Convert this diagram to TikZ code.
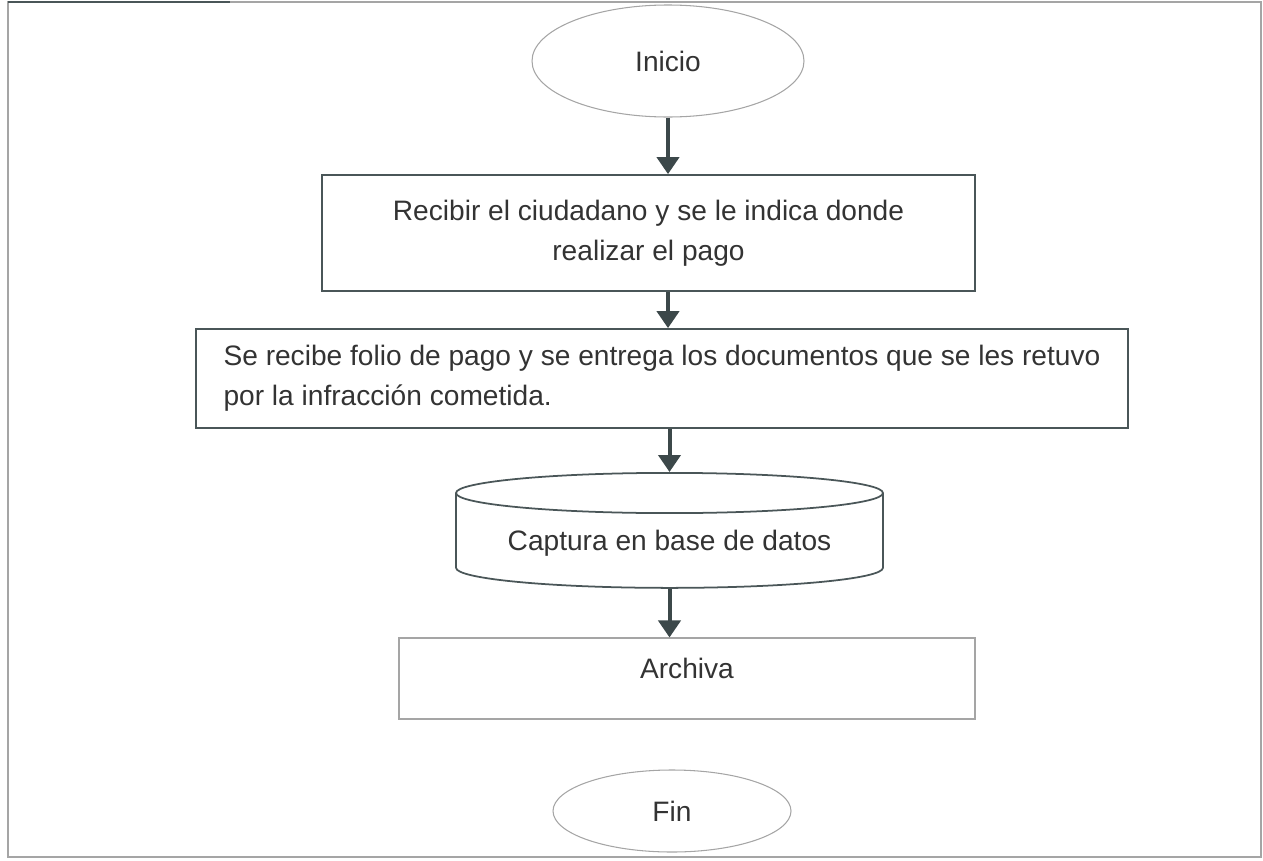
\documentclass[tikz,border=0pt]{standalone}
\usepackage{fontspec}
\setmainfont{Liberation Sans}
\usetikzlibrary{arrows.meta,shapes.geometric}
\definecolor{bordegris}{RGB}{74,86,88}
\definecolor{flechagris}{RGB}{60,72,74}
\definecolor{textogris}{RGB}{51,51,51}
\definecolor{bordeclaro}{RGB}{165,165,165}

\begin{document}
\begin{tikzpicture}[>={Triangle[width=0.44cm,length=0.34cm]},
    caja/.style={draw=bordegris,line width=1pt,text=textogris,
                 font=\fontsize{16}{23}\selectfont},
    terminal/.style={ellipse,draw=bordeclaro,line width=0.6pt,text=textogris,
                 font=\fontsize{16}{23}\selectfont},
    flecha/.style={->,draw=flechagris,line width=0.08cm}]
  % marco de la hoja
  \useasboundingbox (0,0) rectangle (25.26,-17.2);
  \draw[bordeclaro,line width=0.8pt] (0.16,-0.04) rectangle (25.22,-17.14);
  \draw[bordegris,line width=1.6pt] (0.16,-0.04) -- (4.6,-0.04);
  % inicio
  \node[terminal,minimum width=5.44cm,minimum height=2.24cm]
        (inicio) at (13.36,-1.22) {Inicio};
  % recibir al ciudadano
  \node[caja,minimum width=13.06cm,minimum height=2.32cm,align=center]
        (recibir) at (12.97,-4.66)
        {Recibir el ciudadano y se le indica donde\\ realizar el pago};
  % folio de pago
  \node[caja,minimum width=18.64cm,minimum height=1.98cm,align=left]
        (folio) at (13.24,-7.57)
        {Se recibe folio de pago y se entrega los documentos que se les retuvo\\
         por la infracción cometida.};
  % base de datos
  \node[caja,cylinder,shape border rotate=90,aspect=0.12,anchor=north,
        minimum width=8.54cm,minimum height=2.3cm]
        (captura) at (13.39,-9.44) {Captura en base de datos};
  % archiva (texto un poco arriba)
  \node[caja,draw=bordeclaro,line width=0.6pt,minimum width=11.52cm,minimum height=1.62cm,
        text height=11pt,text depth=11pt]
        (archiva) at (13.74,-13.57) {Archiva};
  % fin
  \node[terminal,minimum width=4.76cm,minimum height=1.64cm]
        (fin) at (13.44,-16.22) {Fin};
  % flechas
  \draw[flecha] (inicio.south) -- (inicio.south |- recibir.north);
  \draw[flecha] (inicio.south |- recibir.south) -- (inicio.south |- folio.north);
  \draw[flecha] (captura.north |- folio.south) -- (captura.north);
  \draw[flecha] (captura.south) -- (captura.south |- archiva.north);
\end{tikzpicture}
\end{document}
